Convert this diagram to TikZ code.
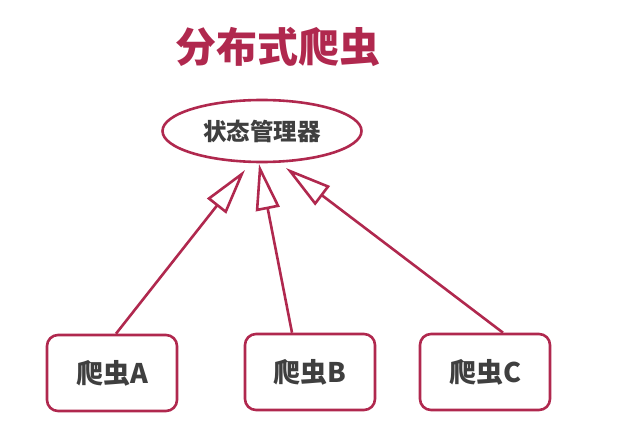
\documentclass[tikz,border=0pt]{standalone}
\usepackage{fontspec}
\setmainfont{Open Sans}
\newfontfamily\cjk{Noto Sans CJK SC}
\usetikzlibrary{shapes.geometric,arrows.meta}
\definecolor{crim}{HTML}{B0284E}
\definecolor{txt}{HTML}{3F3F3F}
\tikzset{
	worker/.style={draw=crim,line width=2.6pt,rounded corners=11pt,fill=white,
		minimum width=130pt,minimum height=76pt,text=txt,font=\cjk\bfseries\fontsize{27}{27}\selectfont},
	manager/.style={ellipse,draw=crim,line width=2.6pt,fill=white,inner sep=0pt,
		minimum width=199pt,minimum height=62pt,text=txt,font=\cjk\bfseries\fontsize{23.5}{23.5}\selectfont},
	inherit/.style={draw=crim,line width=2.6pt,-{Triangle[open,length=46pt,width=24pt,line width=2.6pt]}}
}
\begin{document}
\begin{tikzpicture}[x=1pt,y=-1pt]
	\useasboundingbox (0,0) rectangle (617,430);
	\node[text=crim,font=\cjk\bfseries\fontsize{41}{41}\selectfont] (title) at (278,47) {分布式爬虫};
	\node[manager] (mgr) at (262,131) {状态管理器};
	\node[worker] (a) at (112,373) {爬虫A};
	\node[worker] (b) at (310,372) {爬虫B};
	\node[worker] (c) at (485,372) {爬虫C};
	\coordinate (ta) at (245,170);
	\coordinate (tb) at (259,164);
	\coordinate (tc) at (286,168);
	\draw[inherit] ([xshift=4pt]a.north) -- (ta);
	\draw[inherit] ([xshift=-18pt]b.north) -- (tb);
	\draw[inherit] ([xshift=18pt]c.north) -- (tc);
\end{tikzpicture}
\end{document}
